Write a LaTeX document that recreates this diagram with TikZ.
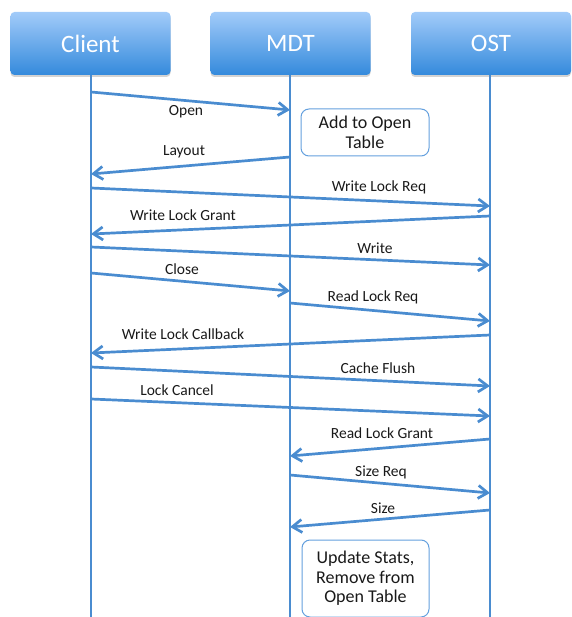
\documentclass[tikz,border=0pt]{standalone}
\usepackage{fontspec}
\setmainfont{Carlito}
\usetikzlibrary{arrows.meta,shadows}
\definecolor{lineblue}{RGB}{74,140,208}
\definecolor{boxtop}{RGB}{162,203,249}
\definecolor{boxbot}{RGB}{52,138,220}
\definecolor{noteline}{RGB}{100,160,222}
\definecolor{labeltext}{RGB}{25,25,25}
\begin{document}
\begin{tikzpicture}[x=1pt,y=1pt,
  header/.style={rectangle, rounded corners=4pt, minimum width=160pt, minimum height=63pt,
    top color=boxtop, bottom color=boxbot, draw=none, text=white,
    font=\fontsize{25}{28}\selectfont,
    drop shadow={shadow xshift=0pt, shadow yshift=-2pt, opacity=0.35, fill=gray}},
  lifeline/.style={draw=lineblue, line width=2.7pt},
  msg/.style={draw=lineblue, line width=2.7pt, -{Straight Barb[length=9.5pt,width=13pt,line width=2.7pt]}},
  msglabel/.style={anchor=base, inner sep=0pt, text=labeltext, font=\fontsize{15.5}{18}\selectfont},
  note/.style={rectangle, rounded corners=8pt, draw=noteline, line width=1pt, fill=white,
    align=center, text=labeltext, font=\fontsize{18}{19.5}\selectfont, inner sep=0pt}
]
\useasboundingbox (0,0) rectangle (571,-617);

% headers
\node[header] (client) at (90.5,-43.5) {Client};
\node[header] (mdt) at (290.5,-43.5) {MDT};
\node[header] (ost) at (491,-43.5) {OST};

% lifelines
\coordinate (cbot) at (91,-617);
\coordinate (mbot) at (290,-617);
\coordinate (obot) at (490,-617);
\draw[lifeline] (91,-75) coordinate (ctop) -- (cbot);
\draw[lifeline] (290,-75) coordinate (mtop) -- (mbot);
\draw[lifeline] (490,-75) coordinate (otop) -- (obot);

% notes
\node[note, minimum width=128pt, minimum height=47pt] (addnote) at (365,-132.5)
  {Add to Open\\Table};
\node[note, minimum width=127pt, minimum height=77pt] (updnote) at (365.5,-578.5)
  {Update Stats,\\Remove from\\Open Table};

% message end points
\coordinate (c1) at (91,-92);   \coordinate (m1) at (290,-110);
\coordinate (m2) at (290,-157); \coordinate (c2) at (91,-174);
\coordinate (c3) at (91,-188);  \coordinate (o3) at (490,-206);
\coordinate (o4) at (490,-216); \coordinate (c4) at (91,-234);
\coordinate (c5) at (91,-247);  \coordinate (o5) at (490,-265);
\coordinate (c6) at (91,-273);  \coordinate (m6) at (290,-291);
\coordinate (m7) at (290,-303); \coordinate (o7) at (490,-321);
\coordinate (o8) at (490,-335); \coordinate (c8) at (91,-353);
\coordinate (c9) at (91,-367);  \coordinate (o9) at (490,-386);
\coordinate (c10) at (91,-399); \coordinate (o10) at (490,-416);
\coordinate (o11) at (490,-439); \coordinate (m11) at (290,-456);
\coordinate (m12) at (290,-475); \coordinate (o12) at (490,-493);
\coordinate (o13) at (490,-510); \coordinate (m13) at (290,-527);

% messages
\draw[msg] (c1) -- (m1);
\draw[msg] (m2) -- (c2);
\draw[msg] (c3) -- (o3);
\draw[msg] (o4) -- (c4);
\draw[msg] (c5) -- (o5);
\draw[msg] (c6) -- (m6);
\draw[msg] (m7) -- (o7);
\draw[msg] (o8) -- (c8);
\draw[msg] (c9) -- (o9);
\draw[msg] (c10) -- (o10);
\draw[msg] (o11) -- (m11);
\draw[msg] (m12) -- (o12);
\draw[msg] (o13) -- (m13);

% labels
\node[msglabel] (l1) at (186,-116) {Open};
\node[msglabel] (l2) at (184,-156) {Layout};
\node[msglabel] (l3) at (379,-192) {Write Lock Req};
\node[msglabel] (l4) at (183,-221) {Write Lock Grant};
\node[msglabel] (l5) at (375,-253) {Write};
\node[msglabel] (l6) at (182,-274) {Close};
\node[msglabel] (l7) at (373,-301) {Read Lock Req};
\node[msglabel] (l8) at (183,-339) {Write Lock Callback};
\node[msglabel] (l9) at (378,-373) {Cache Flush};
\node[msglabel] (l10) at (177,-395) {Lock Cancel};
\node[msglabel] (l11) at (382,-438) {Read Lock Grant};
\node[msglabel] (l12) at (381,-476) {Size Req};
\node[msglabel] (l13) at (383,-513) {Size};
\end{tikzpicture}
\end{document}
